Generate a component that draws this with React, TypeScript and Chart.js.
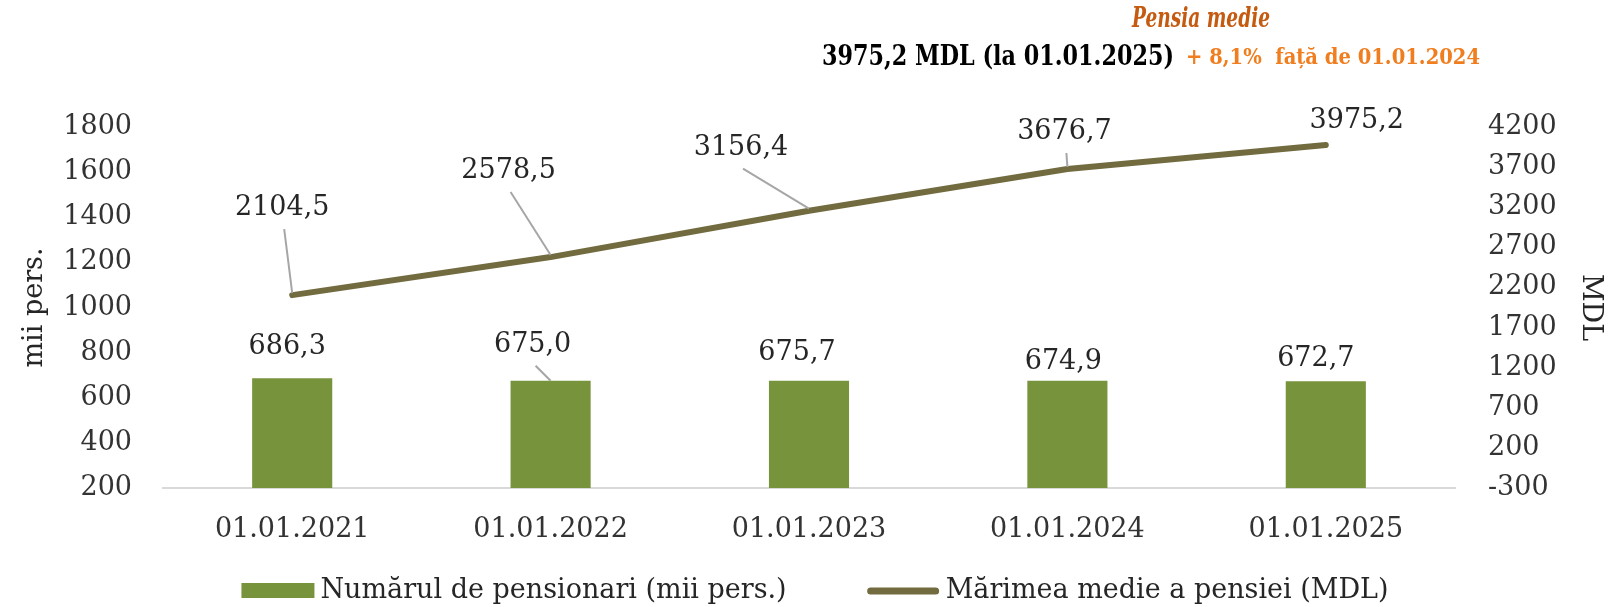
import React, { useEffect, useRef } from 'react';
import { Chart, registerables } from 'chart.js';

Chart.register(...registerables);

// ---- Data ----
const categories = ['01.01.2021', '01.01.2022', '01.01.2023', '01.01.2024', '01.01.2025'];
const pensioners = [686.3, 675.0, 675.7, 674.9, 672.7]; // mii pers.
const avgPension = [2104.5, 2578.5, 3156.4, 3676.7, 3975.2]; // MDL

const leftAxisMin = 200;
const leftAxisMax = 1800;
const leftAxisStep = 200;
const rightAxisMin = -300;
const rightAxisMax = 4200;
const rightAxisStep = 500;

const seriesNames = ['Numărul de pensionari (mii pers.)', 'Mărimea medie a pensiei (MDL)'];
const leftAxisTitle = 'mii pers.';
const rightAxisTitle = 'MDL';
const titleLine1 = 'Pensia medie';
const titleLine2a = '3975,2 MDL (la 01.01.2025)';
const titleLine2b = '+ 8,1%  față de 01.01.2024';

// ---- Label placement (style) ----
const barLabelOffsets = [[-5, -31], [-18, -36], [-12, -28], [-4, -19], [-10, -22]];
const barLabelLeaders = [false, true, false, false, false];
const lineLabelOffsets = [[-10, -87], [-42, -86], [-68, -63], [-3, -37], [31, -24]];
const lineLabelLeaders = [true, true, true, true, false];

const FONT = '"DejaVu Serif", "Liberation Serif", serif';
const BAR_COLOR = '#77933C';
const LINE_COLOR = '#726B3F';
const TEXT_COLOR = '#262626';
const TICK_COLOR = '#333333';
const LEADER_COLOR = '#A6A6A6';

const fmt = (v: number) => v.toFixed(1).replace('.', ',');

// draw text horizontally condensed to a target width (emulates a condensed face)
function drawFitted(ctx: CanvasRenderingContext2D, text: string, x: number, y: number, width: number) {
  const natural = ctx.measureText(text).width;
  const sx = width / natural;
  ctx.save();
  ctx.translate(x, y);
  ctx.scale(sx, 1);
  ctx.fillText(text, 0, 0);
  ctx.restore();
}

const labelsPlugin = {
  id: 'customLabels',
  afterDatasetsDraw(chart: any) {
    const ctx = chart.ctx;
    ctx.save();
    ctx.font = `27px ${FONT}`;
    ctx.fillStyle = TEXT_COLOR;
    ctx.textAlign = 'center';
    ctx.textBaseline = 'middle';
    const barMeta = chart.getDatasetMeta(0);
    barMeta.data.forEach((el: any, i: number) => {
      const { x, y } = el.getProps(['x', 'y'], true);
      const [dx, dy] = barLabelOffsets[i];
      const lx = x + dx;
      const ly = y + dy;
      if (barLabelLeaders[i]) {
        ctx.strokeStyle = LEADER_COLOR;
        ctx.lineWidth = 2;
        ctx.beginPath();
        ctx.moveTo(lx + 3, ly + 21);
        ctx.lineTo(x, y);
        ctx.stroke();
      }
      ctx.fillText(fmt(pensioners[i]), lx, ly);
    });
    const lineMeta = chart.getDatasetMeta(1);
    lineMeta.data.forEach((el: any, i: number) => {
      const { x, y } = el.getProps(['x', 'y'], true);
      const [dx, dy] = lineLabelOffsets[i];
      const lx = x + dx;
      const ly = y + dy;
      if (lineLabelLeaders[i]) {
        ctx.strokeStyle = LEADER_COLOR;
        ctx.lineWidth = 2;
        ctx.beginPath();
        ctx.moveTo(lx + 2, ly + 21);
        ctx.lineTo(x, y - 2);
        ctx.stroke();
      }
      ctx.fillText(fmt(avgPension[i]), lx, ly);
    });
    ctx.restore();
  },
};

const decorPlugin = {
  id: 'decor',
  afterDraw(chart: any) {
    const ctx = chart.ctx;
    const area = chart.chartArea;
    ctx.save();
    // Title
    ctx.textBaseline = 'alphabetic';
    ctx.textAlign = 'left';
    ctx.font = `italic bold 27px ${FONT}`;
    ctx.fillStyle = '#C55A11';
    const w1Target = 138;
    drawFitted(ctx, titleLine1, 1201 - w1Target / 2, 27, w1Target);

    const waTarget = 352;
    const wbTarget = 294;
    const gap = 12;
    const total = waTarget + gap + wbTarget;
    const x0 = 1151 - total / 2;
    ctx.font = `bold 28px ${FONT}`;
    ctx.fillStyle = '#000000';
    drawFitted(ctx, titleLine2a, x0, 65, waTarget);
    ctx.font = `bold 22px ${FONT}`;
    ctx.fillStyle = '#F07D1E';
    drawFitted(ctx, titleLine2b, x0 + waTarget + gap, 64, wbTarget);

    // Legend
    ctx.font = `27px ${FONT}`;
    ctx.textBaseline = 'middle';
    const w1 = ctx.measureText(seriesNames[0]).width;
    const w2 = ctx.measureText(seriesNames[1]).width;
    const sw = 73;
    const sg = 6;
    const itemGap = 80;
    const legendW = sw + sg + w1 + itemGap + sw + sg + w2;
    const lx0 = (area.left + area.right) / 2 + 6 - legendW / 2;
    const ly = 591;
    ctx.fillStyle = BAR_COLOR;
    ctx.fillRect(lx0, ly - 8, sw, 15);
    ctx.fillStyle = TEXT_COLOR;
    ctx.fillText(seriesNames[0], lx0 + sw + sg, ly);
    const lx1 = lx0 + sw + sg + w1 + itemGap;
    ctx.strokeStyle = LINE_COLOR;
    ctx.lineWidth = 7;
    ctx.lineCap = 'round';
    ctx.beginPath();
    ctx.moveTo(lx1 + 4, ly);
    ctx.lineTo(lx1 + sw - 4, ly);
    ctx.stroke();
    ctx.fillStyle = TEXT_COLOR;
    ctx.fillText(seriesNames[1], lx1 + sw + sg, ly);
    ctx.restore();
  },
};

export default function App() {
  const canvasRef = useRef<HTMLCanvasElement | null>(null);

  useEffect(() => {
    if (!canvasRef.current) return;
    const chart = new Chart(canvasRef.current, {
      type: 'bar',
      data: {
        labels: categories,
        datasets: [
          {
            type: 'bar',
            label: seriesNames[0],
            data: pensioners,
            backgroundColor: BAR_COLOR,
            yAxisID: 'y',
            barPercentage: 0.31,
            categoryPercentage: 1,
            order: 2,
          },
          {
            type: 'line',
            label: seriesNames[1],
            data: avgPension,
            borderColor: LINE_COLOR,
            backgroundColor: LINE_COLOR,
            borderWidth: 6,
            borderCapStyle: 'round',
            borderJoinStyle: 'round',
            pointRadius: 0,
            pointHoverRadius: 0,
            fill: false,
            tension: 0,
            yAxisID: 'y1',
            order: 1,
          },
        ],
      } as any,
      options: {
        animation: false,
        responsive: false,
        layout: { padding: { top: 127, bottom: 59, left: 0, right: 0 } },
        plugins: {
          legend: { display: false },
          tooltip: { enabled: false },
          title: { display: false },
        },
        scales: {
          x: {
            grid: { display: false, drawTicks: false },
            border: { display: true, color: '#D9D9D9', width: 2 },
            ticks: {
              color: TICK_COLOR,
              font: { family: FONT, size: 27 },
              padding: 26,
            },
            afterFit: (scale: any) => {
              scale.height = 60;
            },
          },
          y: {
            position: 'left',
            min: leftAxisMin,
            max: leftAxisMax,
            grid: { display: false, drawTicks: false },
            border: { display: false },
            ticks: {
              stepSize: leftAxisStep,
              color: TICK_COLOR,
              font: { family: FONT, size: 27 },
              padding: 31,
              callback: (v: any) => String(v),
            },
            title: {
              display: true,
              text: leftAxisTitle,
              color: TEXT_COLOR,
              font: { family: FONT, size: 27 },
              padding: { top: 19, bottom: 0 },
            },
            afterFit: (scale: any) => {
              scale.width = 163;
            },
          },
          y1: {
            position: 'right',
            min: rightAxisMin,
            max: rightAxisMax,
            grid: { display: false, drawTicks: false },
            border: { display: false },
            ticks: {
              stepSize: rightAxisStep,
              color: TICK_COLOR,
              font: { family: FONT, size: 27 },
              padding: 33,
              callback: (v: any) => String(v),
            },
            title: {
              display: true,
              text: rightAxisTitle,
              color: TEXT_COLOR,
              font: { family: FONT, size: 27 },
              padding: { top: 8, bottom: 0 },
            },
            afterFit: (scale: any) => {
              scale.width = 159;
            },
          },
        },
      } as any,
      plugins: [labelsPlugin, decorPlugin],
    });
    return () => chart.destroy();
  }, []);

  return (
    <div style={{ position: 'fixed', left: 0, top: 0, width: 1614, height: 607, background: '#ffffff' }}>
      <canvas ref={canvasRef} width={1614} height={607} style={{ display: 'block' }} />
    </div>
  );
}
